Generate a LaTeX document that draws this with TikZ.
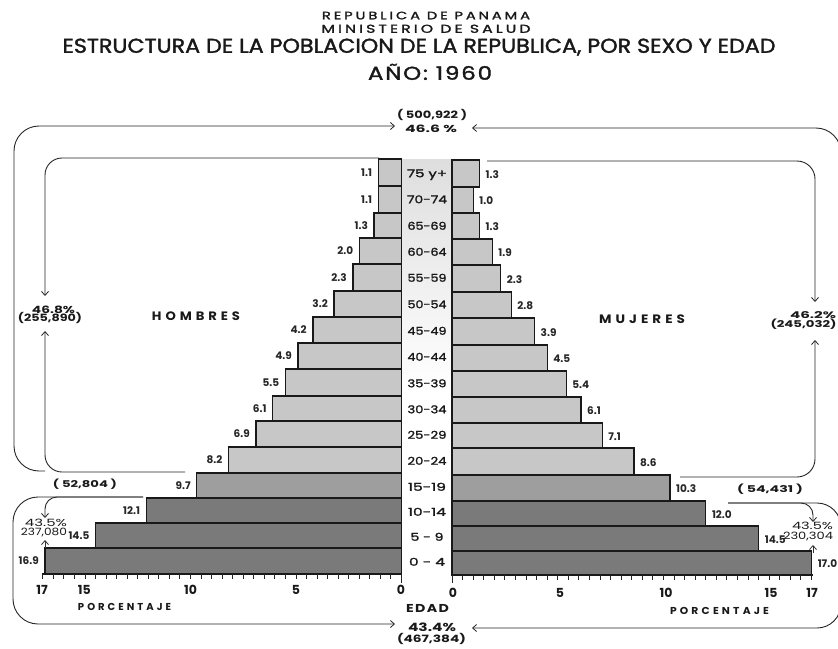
\documentclass[tikz,border=0pt]{standalone}
\usepackage{fontspec}
\usepackage{graphicx}
\setmainfont{Poppins}
\newfontfamily\medfont[FakeBold=1.6]{Poppins}
\usetikzlibrary{arrows.meta}
\newcommand{\fitto}[3]{\resizebox{#1pt}{#2pt}{\smash{#3}\vphantom{H}}}
\newcommand{\spc}[2]{{\addfontfeature{LetterSpace=#1}#2}}
\begin{document}
\begin{tikzpicture}[x=1pt,y=-1pt,
  txt/.style={anchor=south,inner sep=0pt,text=black!90},
  val/.style={inner sep=0pt,font=\fontsize{10.5}{11}\selectfont\bfseries,text=black!85},
  axn/.style={anchor=south,inner sep=0pt,font=\fontsize{12.5}{12.5}\selectfont\bfseries,text=black!90},
  brk/.style={line width=0.9pt,draw=black!85,rounded corners=#1},
  brk/.default=18pt,
  tipa/.style={-{Straight Barb[length=4pt,width=7pt,line width=0.8pt]}},
  light/.style={fill=black!22,draw=black!90,line width=1.3pt},
  mid/.style={fill=black!38,draw=black!90,line width=1.3pt},
  dark/.style={fill=black!52,draw=black!90,line width=1.3pt},
  tck/.style={line width=1pt,draw=black!85}]
\useasboundingbox (0,0) rectangle (838,648);
\fill[white] (0,0) rectangle (838,648);

% titles
\node[txt] (t1) at (426,19.5) {\fitto{208}{7.5}{\medfont\spc{20}{REPUBLICA DE PANAMA}}};
\node[txt] (t2) at (426,33) {\fitto{209}{8}{\medfont\spc{20}{MINISTERIO DE SALUD}}};
\node[txt] (t3) at (419,53) {\fitto{713}{14}{\medfont ESTRUCTURA DE LA POBLACION DE LA REPUBLICA, POR SEXO Y EDAD}};
\node[txt] (t4) at (430,80) {\fitto{124}{13}{\medfont\spc{8}{AÑO: 1960}}};

% centre column background
\shade[top color=black!13,bottom color=white] (402,159) rectangle (452,390);

% male bars
\foreach \vv/\ty/\by/\sty [count=\i] in {1.1/159/186/light,1.1/186/213/light,1.3/213/238/light,2.0/238/264/light,2.3/264/291/light,3.2/291/317/light,4.2/317/343/light,4.9/343/369/light,5.5/369/396/light,6.1/396/421/light,6.9/421/447/light,8.2/447/473/light,9.7/473/498/mid,12.1/498/523/dark,14.5/523/548/dark,16.9/548/574/dark}{
  \draw[\sty] ({401.5-\vv*21.1},\ty) rectangle (401.5,\by);
  \node[val,anchor=east] (ml\i) at ({401.5-\vv*21.1-6},{(\ty+\by)/2}) {\vv};
}
% female bars
\foreach \vv/\ty/\by/\sty [count=\i] in {1.3/160/187/light,1.0/187/213/light,1.3/213/239/light,1.9/239/265/light,2.3/265/292/light,2.8/292/318/light,3.9/318/345/light,4.5/345/371/light,5.4/371/397/light,6.1/397/423/light,7.1/423/448/light,8.6/448/475/light,10.3/475/501/mid,12.0/501/526/dark,14.5/526/551/dark,17.0/551/575/dark}{
  \draw[\sty] (452,\ty) rectangle ({452+\vv*21.15},\by);
  \node[val,anchor=west] (fl\i) at ({452+\vv*21.15+6},{(\ty+\by)/2+1}) {\vv};
}
% age labels
\foreach \a/\w/\y [count=\i] in {75 y+/40/173.5,70-74/40/199.5,65-69/39/226,60-64/39/252,55-59/39/278,50-54/39/304.5,45-49/39/331,40-44/39/357,35-39/39/383.5,30-34/39/409.5,25-29/39/435,20-24/39/461,15-19/38/487,10-14/38/512,5 - 9/33/537,0 - 4/36/562}{
  \node[inner sep=0pt,text=black!90] (ag\i) at (427,\y) {\fitto{\w}{7.5}{\medfont\a}};
}

% axes
\draw[line width=2pt,black!90] (42,574) -- (402,574);
\draw[line width=2pt,black!90] (451,575) -- (812.5,575);
\foreach \k in {0,...,34}{
  \draw[tck] ({401.5-\k*0.5*21.1},574) -- ++(0,5);
  \draw[tck] ({452+\k*0.5*21.15},575) -- ++(0,5);
}
\draw[tck] (401.5,574) -- (401.5,583);
\draw[tck] (452,575) -- (452,583);
\node[axn] (l17) at (42,595) {17};
\node[axn] (l15) at (84.3,595) {15};
\node[axn] (l10) at (190.5,595) {10};
\node[axn] (l5) at (296,595) {5};
\node[axn] (l0) at (401,595) {0};
\node[axn] (r0) at (453,598) {0};
\node[axn] (r5) at (560,598) {5};
\node[axn] (r10) at (666,598) {10};
\node[axn] (r15) at (771,598) {15};
\node[axn] (r17) at (812,598) {17};

% labels
\node[txt] (hom) at (196,321) {\fitto{88}{8.5}{\bfseries\spc{30}{HOMBRES}}};
\node[txt] (muj) at (642,324) {\fitto{86}{8.5}{\bfseries\spc{30}{MUJERES}}};
\node[txt] (tot1) at (432,119) {\fitto{70}{7}{\bfseries ( 500,922 )}};
\node[txt] (tot2) at (431,132.5) {\fitto{52}{7}{\bfseries 46.6 \%}};
\node[txt] (m1) at (53.5,313.5) {\fitto{43}{7}{\bfseries 46.8\%}};
\node[txt] (m2) at (50,322) {\fitto{64}{7}{\bfseries (255,890)}};
\node[txt] (f1) at (813,319) {\fitto{46}{6.5}{\bfseries 46.2\%}};
\node[txt] (f2) at (803.5,328) {\fitto{66}{6.5}{\bfseries (245,032)}};
\node[txt] (m3) at (85,488) {\fitto{64}{6.5}{\bfseries ( 52,804 )}};
\node[txt] (f3) at (770,493) {\fitto{66}{6.5}{\bfseries ( 54,431 )}};
\node[txt] (m4) at (46,527) {\fitto{42}{7}{43.5\%}};
\node[txt] (m5) at (44,536) {\fitto{46}{7}{237,080}};
\node[txt] (f4) at (812.5,530) {\fitto{41}{7}{43.5\%}};
\node[txt] (f5) at (808,540) {\fitto{50}{7}{230,304}};
\node[txt] (edad) at (427.5,613) {\fitto{43}{8}{\bfseries\spc{10}{EDAD}}};
\node[txt] (b1) at (432,632) {\fitto{48}{8}{\bfseries 43.4\%}};
\node[txt] (b2) at (431.5,643) {\fitto{69}{7}{\bfseries (467,384)}};
\node[txt] (pl) at (124.5,611) {\fitto{93}{7}{\bfseries\spc{30}{PORCENTAJE}}};
\node[txt] (pr) at (719.5,615) {\fitto{99}{7}{\bfseries\spc{30}{PORCENTAJE}}};

% bracket end points
\coordinate (tl) at (395,126);
\coordinate (tr) at (472,128);
\coordinate (bl) at (395,624);
\coordinate (br) at (472,628);
\coordinate (mT) at (379,158);
\coordinate (mTa) at (45,296);
\coordinate (mB) at (185,472);
\coordinate (mBa) at (45,331);
\coordinate (fT) at (487,161);
\coordinate (fTa) at (815,302);
\coordinate (fB) at (680,477);
\coordinate (fBa) at (815,340);
\coordinate (mY) at (143,497);
\coordinate (mYa) at (45,518);
\coordinate (fY) at (728,503);
\coordinate (fYa) at (813,522);

% brackets
\draw[brk=25pt,tipa] (45,471) -- (14,471) -- (14,126) -- (tl);
\draw[brk=25pt,tipa] (841,470) -- (841,128) -- (tr);
\draw[brk=17pt,tipa] (mT) -- (45,158) -- (mTa);
\draw[brk=17pt,tipa] (mB) -- (45,472) -- (mBa);
\draw[brk=18pt,tipa] (fT) -- (815,161) -- (fTa);
\draw[brk=18pt,tipa] (fB) -- (815,477) -- (fBa);
\draw[brk=25pt,tipa] (mY) -- (13,497) -- (13,624) -- (bl);
\draw[brk=12pt,tipa] (mY) -- (45,497) -- (mYa);
\draw[brk=12pt,tipa] (fY) -- (813,503) -- (fYa);
\draw[brk=24pt,tipa] (fY) -- (841,503) -- (841,628) -- (br);
\draw[line width=0.7pt,black!80,tipa] (45,548) -- (45,540);
\draw[line width=0.7pt,black!80,tipa] (813,553) -- (813,545);
\end{tikzpicture}
\end{document}
